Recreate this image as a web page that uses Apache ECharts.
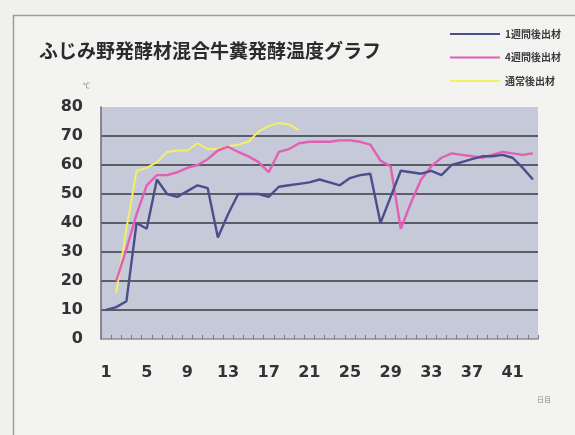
<!DOCTYPE html>
<html>
<head>
<meta charset="utf-8">
<script src="https://cdn.jsdelivr.net/npm/echarts@6/dist/echarts.min.js"></script>
<style>
  html, body { margin: 0; padding: 0; background: #f0f0ee; }
  #main { width: 575px; height: 435px; }
</style>
</head>
<body>
<div id="main"></div>
<script>
// 日数
var days = [];
for (var d = 1; d <= 43; d++) { days.push(String(d)); }

// 1週間後出材
var week1 = [10, 11, 13, 40, 38, 55, 50, 49, 51, 53, 52, 35, 43, 50, 50, 50, 49, 52.5, 53, 53.5,
  54, 55, 54, 53, 55.5, 56.5, 57, 40, 49, 58, 57.5, 57, 58, 56.5, 60, 61, 62, 63, 63, 63.5,
  62.5, 59, 55];
// 4週間後出材
var week4 = [null, 20, 31, 43, 53, 56.5, 56.5, 57.5, 59, 60, 62, 65, 66.3, 64.5, 63, 61, 57.5, 64.5, 65.5, 67.5,
  68, 68, 68, 68.5, 68.5, 68, 67, 61.5, 59.5, 38, 47, 55, 59.5, 62.5, 64, 63.5, 63, 62.5, 63.5, 64.5,
  64, 63.5, 64];
// 通常後出材
var normal = [null, 16, 38, 58, 59, 61, 64.5, 65, 65, 67.5, 65.5, 65.5, 66.5, 67, 68, 71.5, 73.5, 74.5, 74, 72];

var seriesNames = ['1週間後出材', '4週間後出材', '通常後出材'];
var seriesColors = ['#4a4f8c', '#e25fb4', '#f2f064'];

var mainContainer = document.getElementById('main');
var chart = echarts.init(mainContainer);

var option = {
    backgroundColor: '#f0f0ee',
    animation: false,
    title: {
        text: 'ふじみ野発酵材混合牛糞発酵温度グラフ',
        left: 34,
        top: 36,
        textStyle: {
            fontFamily: 'Noto Sans CJK JP',
            fontSize: 19,
            fontWeight: 'bold',
            color: '#2b2b2b'
        }
    },
    legend: {
        orient: 'vertical',
        left: 445,
        top: 24,
        icon: 'rect',
        itemWidth: 50,
        itemHeight: 2,
        itemGap: 13.5,
        data: seriesNames,
        textStyle: {
            fontFamily: 'Noto Sans CJK JP',
            fontSize: 10,
            fontWeight: 'bold',
            color: '#3a3a3a'
        }
    },
    graphic: [
        {
            // 外枠
            type: 'rect',
            shape: { x: 13.5, y: 15.5, width: 600, height: 500 },
            style: { fill: '#f3f3f1', stroke: '#9c9c9c', lineWidth: 1.5 },
            z: -10
        },
        {
            type: 'text',
            left: 83,
            top: 82,
            style: { text: '℃', fontSize: 7, fill: '#777', fontFamily: 'Noto Sans CJK JP' }
        },
        {
            type: 'text',
            left: 537,
            top: 396,
            style: { text: '日目', fontSize: 7, fill: '#888', fontFamily: 'Noto Sans CJK JP' }
        }
    ],
    grid: {
        left: 101,
        top: 107,
        width: 437,
        height: 232,
        show: true,
        backgroundColor: '#c6c9d7',
        borderColor: '#c6c9d7',
        borderWidth: 0
    },
    xAxis: {
        type: 'category',
        data: days,
        boundaryGap: true,
        axisLine: { show: true, lineStyle: { color: '#8a8d99', width: 1.5 } },
        axisTick: { show: true, inside: true, interval: 0, length: 4, lineStyle: { color: '#777a86' } },
        axisLabel: {
            interval: 3,
            margin: 26,
            fontFamily: 'DejaVu Sans',
            fontSize: 16,
            fontWeight: 'bold',
            color: '#333'
        },
        splitLine: { show: false }
    },
    yAxis: {
        type: 'value',
        min: 0,
        max: 80,
        interval: 10,
        axisLine: { show: true, lineStyle: { color: '#6a6d78', width: 1.5 } },
        axisTick: { show: false },
        axisLabel: {
            margin: 18,
            fontFamily: 'DejaVu Sans',
            fontSize: 16,
            fontWeight: 'bold',
            color: '#333'
        },
        splitLine: {
            show: true,
            lineStyle: {
                color: ['transparent', '#5b5e69', '#5b5e69', '#5b5e69', '#5b5e69', '#5b5e69', '#5b5e69', '#5b5e69', 'transparent'],
                width: 2
            }
        }
    },
    series: [
        {
            name: seriesNames[0],
            type: 'line',
            data: week1,
            symbol: 'none',
            lineStyle: { color: seriesColors[0], width: 2.4 },
            itemStyle: { color: seriesColors[0] },
            z: 3
        },
        {
            name: seriesNames[1],
            type: 'line',
            data: week4,
            symbol: 'none',
            lineStyle: { color: seriesColors[1], width: 2.4 },
            itemStyle: { color: seriesColors[1] },
            z: 2
        },
        {
            name: seriesNames[2],
            type: 'line',
            data: normal,
            symbol: 'none',
            lineStyle: { color: seriesColors[2], width: 2 },
            itemStyle: { color: seriesColors[2] },
            z: 1
        }
    ]
};

chart.setOption(option);
</script>
</body>
</html>
